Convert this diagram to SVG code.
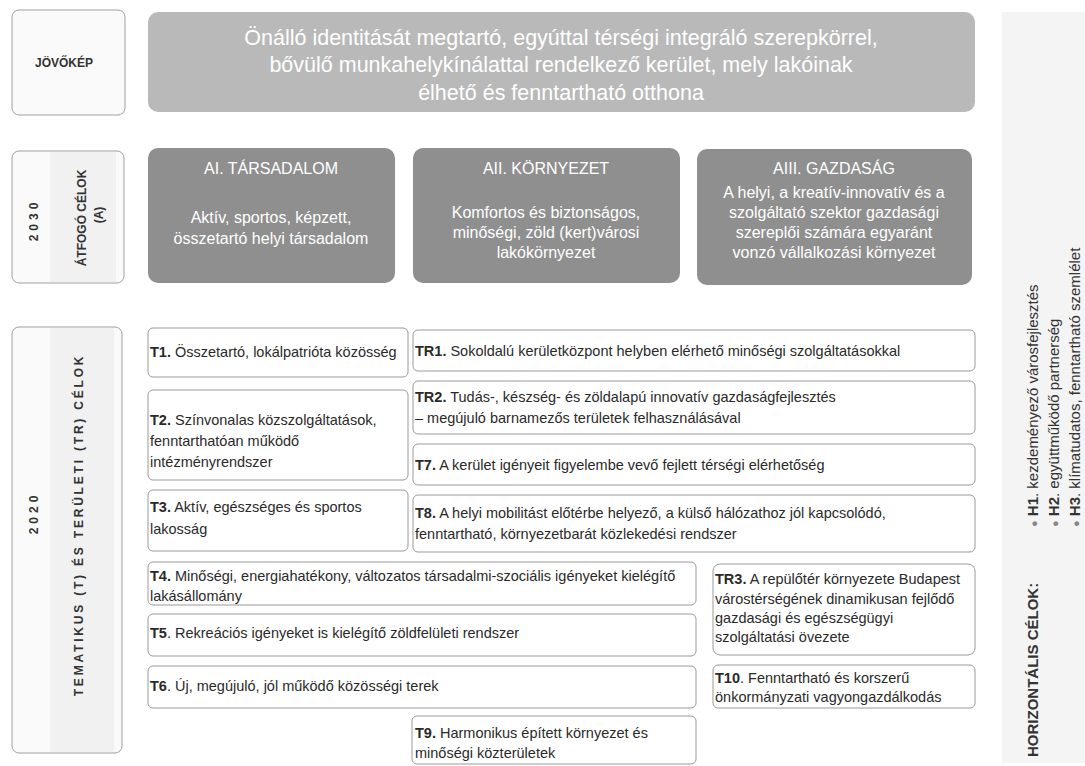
<svg xmlns="http://www.w3.org/2000/svg" width="1085" height="766" viewBox="0 0 1085 766">
<style>
  text { font-family: "Liberation Sans", Arial, sans-serif; }
  .lbl { fill: #fafafa; stroke: #a0a0a0; stroke-width: 1; }
  .lblin { fill: #f1f1f1; }
  .lt { font-size: 12px; font-weight: bold; fill: #333; }
  .vis { fill: #b9b9b9; }
  .vt { font-size: 21.5px; fill: #ffffff; }
  .ab { fill: #8f8f8f; }
  .ah { font-size: 16px; fill: #ffffff; }
  .at { font-size: 16px; fill: #ffffff; }
  .box { fill: #ffffff; stroke: #9a9a9a; stroke-width: 1; }
  .bt { font-size: 14.5px; fill: #2a2a2a; }
  .b { font-weight: bold; }
  .ht { font-size: 15px; fill: #333; }
  .dot { fill: #888; font-size: 11px; }
</style>
<rect x="0" y="0" width="1085" height="766" fill="#ffffff"/>

<!-- left label column -->
<g id="lbl-jovokep">
  <rect class="lbl" x="12" y="10" width="113" height="105" rx="7" fill="#f3f3f3"/>
  <text class="lt" x="64" y="67" text-anchor="middle">JÖVŐKÉP</text>
</g>
<g id="lbl-2030">
  <rect class="lbl" x="12" y="151" width="112" height="132" rx="7"/>
  <rect class="lblin" x="50" y="152" width="66" height="130"/>
  <text class="lt" transform="translate(38,220) rotate(-90)" text-anchor="middle" letter-spacing="4">2030</text>
  <text class="lt" transform="translate(86,218) rotate(-90)" text-anchor="middle" font-size="12.5">ÁTFOGÓ CÉLOK</text>
  <text class="lt" transform="translate(103,215) rotate(-90)" text-anchor="middle">(A)</text>
</g>
<g id="lbl-2020">
  <rect class="lbl" x="12" y="327" width="110" height="426" rx="7"/>
  <rect class="lblin" x="50" y="328" width="64" height="424"/>
  <text class="lt" transform="translate(38,513) rotate(-90)" text-anchor="middle" letter-spacing="4">2020</text>
  <text class="lt" transform="translate(83,525) rotate(-90)" text-anchor="middle" font-size="13.5" letter-spacing="2.8">TEMATIKUS (T) ÉS TERÜLETI (TR) CÉLOK</text>
</g>

<!-- vision -->
<g id="vision">
  <rect class="vis" x="148" y="12" width="827" height="100" rx="10"/>
  <text class="vt" x="561" y="45" text-anchor="middle">Önálló identitását megtartó, egyúttal térségi integráló szerepkörrel,</text>
  <text class="vt" x="561" y="72" text-anchor="middle">bővülő munkahelykínálattal rendelkező kerület, mely lakóinak</text>
  <text class="vt" x="561" y="100" text-anchor="middle">élhető és fenntartható otthona</text>
</g>

<!-- A goals -->
<g id="AI">
  <rect class="ab" x="148" y="148" width="247" height="135" rx="10"/>
  <text class="ah" x="271" y="174" text-anchor="middle">AI. TÁRSADALOM</text>
  <text class="at" x="271" y="223" text-anchor="middle">Aktív, sportos, képzett,</text>
  <text class="at" x="271" y="244" text-anchor="middle">összetartó helyi társadalom</text>
</g>
<g id="AII">
  <rect class="ab" x="413" y="148" width="267" height="135" rx="10"/>
  <text class="ah" x="546" y="174" text-anchor="middle">AII. KÖRNYEZET</text>
  <text class="at" x="546" y="218" text-anchor="middle">Komfortos és biztonságos,</text>
  <text class="at" x="546" y="238" text-anchor="middle">minőségi, zöld (kert)városi</text>
  <text class="at" x="546" y="258" text-anchor="middle">lakókörnyezet</text>
</g>
<g id="AIII">
  <rect class="ab" x="697" y="149" width="275" height="136" rx="10"/>
  <text class="ah" x="834" y="174" text-anchor="middle">AIII. GAZDASÁG</text>
  <text class="at" x="834" y="198" text-anchor="middle">A helyi, a kreatív-innovatív és a</text>
  <text class="at" x="834" y="218" text-anchor="middle">szolgáltató szektor gazdasági</text>
  <text class="at" x="834" y="238" text-anchor="middle">szereplői számára egyaránt</text>
  <text class="at" x="834" y="258" text-anchor="middle">vonzó vállalkozási környezet</text>
</g>

<!-- T / TR goals -->
<g id="T1">
  <rect class="box" x="148" y="328" width="260" height="49" rx="5"/>
  <text class="bt" x="150" y="357"><tspan class="b">T1.</tspan> Összetartó, lokálpatrióta közösség</text>
</g>
<g id="T2">
  <rect class="box" x="148" y="390" width="260" height="90" rx="5"/>
  <text class="bt" x="150" y="425"><tspan class="b">T2.</tspan> Színvonalas közszolgáltatások,</text>
  <text class="bt" x="150" y="446">fenntarthatóan működő</text>
  <text class="bt" x="150" y="467">intézményrendszer</text>
</g>
<g id="T3">
  <rect class="box" x="148" y="490" width="260" height="61" rx="5"/>
  <text class="bt" x="150" y="512"><tspan class="b">T3.</tspan> Aktív, egészséges és sportos</text>
  <text class="bt" x="150" y="534">lakosság</text>
</g>
<g id="TR1">
  <rect class="box" x="413" y="330" width="562" height="41" rx="5"/>
  <text class="bt" x="415" y="356"><tspan class="b">TR1.</tspan> Sokoldalú kerületközpont helyben elérhető minőségi szolgáltatásokkal</text>
</g>
<g id="TR2">
  <rect class="box" x="413" y="381" width="562" height="53" rx="5"/>
  <text class="bt" x="415" y="402"><tspan class="b">TR2.</tspan> Tudás-, készség- és zöldalapú innovatív gazdaságfejlesztés</text>
  <text class="bt" x="415" y="423">– megújuló barnamezős területek felhasználásával</text>
</g>
<g id="T7">
  <rect class="box" x="413" y="444" width="562" height="41" rx="5"/>
  <text class="bt" x="415" y="470"><tspan class="b">T7.</tspan> A kerület igényeit figyelembe vevő fejlett térségi elérhetőség</text>
</g>
<g id="T8">
  <rect class="box" x="413" y="495" width="562" height="57" rx="5"/>
  <text class="bt" x="415" y="518"><tspan class="b">T8.</tspan> A helyi mobilitást előtérbe helyező,  a külső hálózathoz jól kapcsolódó,</text>
  <text class="bt" x="415" y="539">fenntartható, környezetbarát közlekedési rendszer</text>
</g>
<g id="T4">
  <rect class="box" x="148" y="562" width="548" height="43" rx="5"/>
  <text class="bt" x="150" y="581"><tspan class="b">T4.</tspan> Minőségi, energiahatékony, változatos társadalmi-szociális igényeket kielégítő</text>
  <text class="bt" x="150" y="601">lakásállomány</text>
</g>
<g id="T5">
  <rect class="box" x="148" y="614" width="548" height="42" rx="5"/>
  <text class="bt" x="150" y="638"><tspan class="b">T5</tspan>. Rekreációs igényeket is kielégítő zöldfelületi rendszer</text>
</g>
<g id="T6">
  <rect class="box" x="148" y="666" width="548" height="42" rx="5"/>
  <text class="bt" x="150" y="691"><tspan class="b">T6</tspan>. Új, megújuló, jól működő közösségi terek</text>
</g>
<g id="T9">
  <rect class="box" x="412" y="716" width="284" height="48" rx="5"/>
  <text class="bt" x="415" y="738"><tspan class="b">T9.</tspan> Harmonikus épített környezet és</text>
  <text class="bt" x="415" y="758">minőségi közterületek</text>
</g>
<g id="TR3">
  <rect class="box" x="713" y="564" width="262" height="91" rx="7"/>
  <text class="bt" x="715" y="584"><tspan class="b">TR3.</tspan> A repülőtér környezete Budapest</text>
  <text class="bt" x="715" y="604">várostérségének  dinamikusan fejlődő</text>
  <text class="bt" x="715" y="623">gazdasági  és egészségügyi</text>
  <text class="bt" x="715" y="642">szolgáltatási övezete</text>
</g>
<g id="T10">
  <rect class="box" x="713" y="665" width="262" height="43" rx="5"/>
  <text class="bt" x="715" y="683"><tspan class="b">T10</tspan>. Fenntartható  és korszerű</text>
  <text class="bt" x="715" y="702">önkormányzati vagyongazdálkodás</text>
</g>

<!-- horizontal goals -->
<g id="horizontal">
  <rect x="1002" y="12" width="83" height="751" fill="#f4f4f4"/>
  <text class="ht b" transform="translate(1038,757) rotate(-90)">HORIZONTÁLIS CÉLOK:</text>
  <text class="ht" transform="translate(1038,527) rotate(-90)"><tspan class="dot">●</tspan> <tspan class="b">H1</tspan>. kezdeményező városfejlesztés</text>
  <text class="ht" transform="translate(1059,527) rotate(-90)"><tspan class="dot">●</tspan> <tspan class="b">H2</tspan>. együttműködő partnerség</text>
  <text class="ht" transform="translate(1080,527) rotate(-90)"><tspan class="dot">●</tspan> <tspan class="b">H3</tspan>. klímatudatos, fenntartható szemlélet</text>
</g>

<g id="connectors"></g>
</svg>
